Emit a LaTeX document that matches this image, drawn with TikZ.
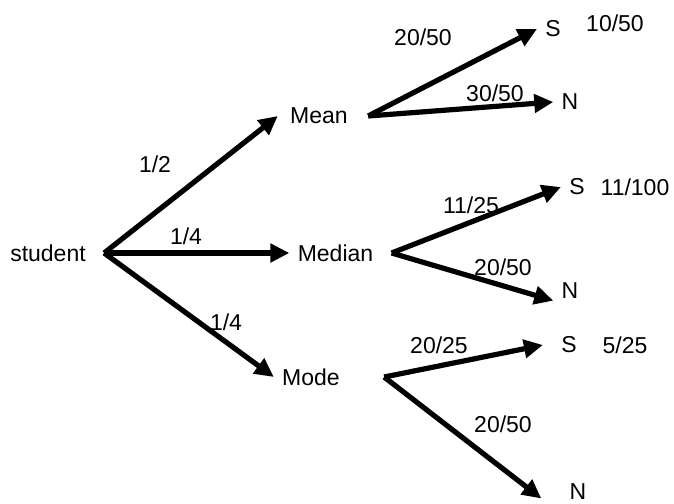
\documentclass[tikz,border=0pt]{standalone}
\usepackage{fontspec}
\setmainfont{Liberation Sans}
\usetikzlibrary{arrows.meta}

\begin{document}
\begin{tikzpicture}[x=.5pt,y=-.5pt,font=\fontsize{11.5}{13.8}\selectfont,
  branch/.style={line width=2.6pt,-{Triangle[length=9.5pt,width=9pt]}},
  word/.style={inner sep=4pt,inner ysep=2pt},
  prob/.style={inner sep=0pt}]
  \useasboundingbox (0,0) rectangle (674,503);
  % first stage
  \node[word,inner xsep=9pt] (student) at (48,253) {student};
  \node[word,inner xsep=6pt] (mean) at (319,116) {Mean};
  \node[word] (median) at (335.5,253) {Median};
  \node[word] (mode) at (311,377) {Mode};
  \node[prob] (pMean) at (155,164) {1/2};
  \node[prob] (pMedian) at (186,236) {1/4};
  \node[prob] (pMode) at (226,322) {1/4};
  \draw[branch] (student.east) -- (mean.west);
  \draw[branch] (student.east) -- (median.west);
  \draw[branch] (student.east) -- (mode.west);
  % second stage
  \node[word] (meanS) at (553,29) {S};
  \node[word] (meanN) at (570,102) {N};
  \node[word] (medianS) at (577,187) {S};
  \node[word] (medianN) at (570,291) {N};
  \node[word,inner xsep=9pt] (modeS) at (569,345) {S};
  \node[word,inner xsep=14pt] (modeN) at (578,492) {N};
  \node[prob] (pMeanS) at (423,37) {20/50};
  \node[prob] (pMeanN) at (495,93) {30/50};
  \node[prob] (pMedianS) at (471,205) {11/25};
  \node[prob] (pMedianN) at (503,267) {20/50};
  \node[prob] (pModeS) at (439,345) {20/25};
  \node[prob] (pModeN) at (503,424) {20/50};
  \node[prob] (jMeanS) at (615,23) {10/50};
  \node[prob] (jMedianS) at (635,187) {11/100};
  \node[prob] (jModeS) at (625,345) {5/25};
  \draw[branch] ([xshift=4pt]mean.east) -- (meanS.west);
  \draw[branch] ([xshift=4pt]mean.east) -- (meanN.west);
  \draw[branch] ([xshift=5pt]median.east) -- (medianS.west);
  \draw[branch] ([xshift=5pt]median.east) -- (medianN.210);
  \draw[branch] ([xshift=18pt]mode.east) -- (modeS.west);
  \draw[branch] ([xshift=18pt]mode.east) -- (modeN.-170);
\end{tikzpicture}
\end{document}
